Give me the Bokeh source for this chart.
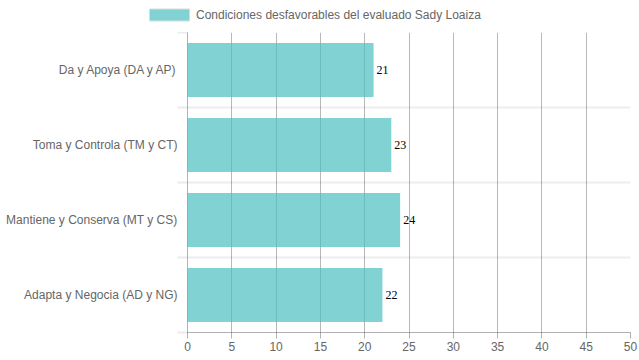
from bokeh.plotting import figure
from bokeh.layouts import column
from bokeh.models import Range1d, FixedTicker, ColumnDataSource, Legend, LegendItem
from bokeh.core.properties import value
from bokeh.embed import file_html
from bokeh.resources import INLINE

categories = ["Da y Apoya (DA y AP)", "Toma y Controla (TM y CT)",
              "Mantiene y Conserva (MT y CS)", "Adapta y Negocia (AD y NG)"]
values = [21, 23, 24, 22]
x_ticks = list(range(0, 51, 5))
series_name = "Condiciones desfavorables del evaluado Sady Loaiza"

FONT = "Liberation Sans"
BAR = "#4bc0c0"

n = len(categories)
pos = [i + 0.5 for i in range(n)]
src = ColumnDataSource(dict(y=pos, v=values, lbl=[str(v) for v in values]))

# ---- legend strip (its bars lie outside its own range; only the key shows) ----
lg = figure(frame_width=639, frame_height=32, output_backend="svg",
            toolbar_location=None,
            x_range=Range1d(0, 1), y_range=Range1d(100, 101),
            min_border_left=0, min_border_right=0, min_border_top=0,
            min_border_bottom=0, x_axis_location=None, y_axis_location=None)
lg.outline_line_color = None
lg.grid.visible = False
key = lg.hbar(y="y", right="v", left=0, height=0.72, source=src,
              fill_color=BAR, fill_alpha=0.7, line_color="#dcdcdc", line_width=1)
legend = Legend(items=[LegendItem(label=series_name, renderers=[key])],
                location=(144, 10), orientation="horizontal",
                glyph_width=50, glyph_height=15, label_height=15,
                label_standoff=2, padding=0, margin=0, spacing=0,
                border_line_color=None, background_fill_alpha=0,
                label_text_font=FONT, label_text_font_size="12px",
                label_text_color="#666666")
lg.add_layout(legend, "center")

# ---- main chart ----
p = figure(frame_width=443, frame_height=300, output_backend="svg",
           toolbar_location=None,
           x_range=Range1d(0, 50), y_range=Range1d(n, 0),
           min_border_left=187, min_border_right=9, min_border_top=0,
           min_border_bottom=28)
p.outline_line_color = None
p.background_fill_color = "white"

bars = p.hbar(y="y", right="v", left=0, height=0.72, source=src,
              fill_color=BAR, fill_alpha=0.7, line_color=None)
p.text(x="v", y="y", text="lbl", source=src, x_offset=3,
       text_baseline="middle", text_align="left",
       text_font=value("Liberation Serif"), text_font_size="12px",
       text_color="#000000")

# x axis
p.xaxis.ticker = FixedTicker(ticks=x_ticks)
p.xaxis.major_label_text_font = FONT
p.xaxis.major_label_text_font_size = "12px"
p.xaxis.major_label_text_color = "#666666"
p.xaxis.axis_line_color = "#000000"
p.xaxis.axis_line_alpha = 0.3
p.xaxis.major_tick_line_color = "#000000"
p.xaxis.major_tick_line_alpha = 0.3
p.xaxis.major_tick_out = 6
p.xaxis.major_tick_in = 0
p.xaxis.major_label_standoff = 3
p.xaxis.minor_tick_line_color = None

p.xgrid.ticker = FixedTicker(ticks=x_ticks)
p.xgrid.grid_line_color = "#000000"
p.xgrid.grid_line_alpha = 0.28

# y axis
p.yaxis.ticker = FixedTicker(ticks=pos, minor_ticks=list(range(n + 1)))
p.yaxis.major_label_overrides = {pp: c for pp, c in zip(pos, categories)}
p.yaxis.major_label_text_font = FONT
p.yaxis.major_label_text_font_size = "12px"
p.yaxis.major_label_text_color = "#666666"
p.yaxis.major_tick_line_color = None
p.yaxis.major_tick_out = 0
p.yaxis.major_tick_in = 0
p.yaxis.major_label_standoff = 0
p.yaxis.minor_tick_line_color = "#000000"
p.yaxis.minor_tick_line_alpha = 0.08
p.yaxis.minor_tick_line_width = 2
p.yaxis.minor_tick_out = 10
p.yaxis.minor_tick_in = 0
p.yaxis.axis_line_color = "#000000"
p.yaxis.axis_line_alpha = 0.3

p.ygrid.ticker = FixedTicker(ticks=list(range(n + 1)))
p.ygrid.grid_line_color = "#000000"
p.ygrid.grid_line_alpha = 0.07
p.ygrid.grid_line_width = 2

layout = column(lg, p, spacing=0)
open("out.html", "w").write(file_html(layout, INLINE))
